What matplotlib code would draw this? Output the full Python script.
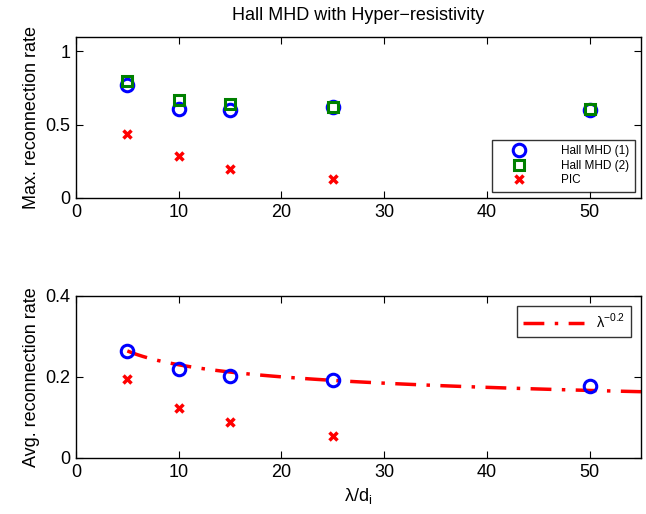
import numpy as np
import matplotlib.pyplot as plt

plt.rcParams['font.family'] = ['Liberation Sans', 'DejaVu Sans']

# wavelength / ion inertial length
lam = [5, 10, 15, 25, 50]
lam_pic = [5, 10, 15, 25]

# max. reconnection rate
max_hall1 = [0.77, 0.61, 0.60, 0.62, 0.60]
max_hall2 = [0.80, 0.67, 0.64, 0.62, 0.61]
max_pic = [0.435, 0.284, 0.196, 0.13]

# avg. reconnection rate
avg_hall1 = [0.264, 0.220, 0.202, 0.193, 0.178]
avg_pic = [0.195, 0.123, 0.089, 0.053]

# power law fit  a * lambda^p
fit_a = 0.364
fit_p = -0.2

blue = (0, 0, 1)
green = (0, 0.5, 0)
red = (1, 0, 0)

fig = plt.figure(figsize=(6.46, 5.14), dpi=100)
ax1 = fig.add_axes([0.1176, 0.6148, 0.8746, 0.3138])
ax2 = fig.add_axes([0.1176, 0.109, 0.8746, 0.3158])

ax1.plot(lam, max_hall1, 'o', mfc='none', mec=blue, mew=2.2, ms=9, label='Hall MHD (1)')
ax1.plot(lam, max_hall2, 's', mfc='none', mec=green, mew=2.2, ms=7.5, label='Hall MHD (2)')
ax1.plot(lam_pic, max_pic, 'x', color=red, mew=2.5, ms=5.5, label='PIC')
ax1.set_xlim(0, 55)
ax1.set_ylim(0, 1.1)
ax1.set_yticks([0, 0.5, 1])
ax1.set_yticklabels(['0', '0.5', '1'])
ax1.set_ylabel('Max. reconnection rate', fontsize=13)
ax1.set_title('Hall MHD with Hyper\u2212resistivity', fontsize=13, pad=12)
leg1 = ax1.legend(loc='lower right', fontsize=8.5, frameon=True, fancybox=False,
                  edgecolor='black', borderpad=0.5, handletextpad=1.8,
                  labelspacing=0.2, borderaxespad=0.5, handlelength=3.5)
leg1.get_frame().set_linewidth(1)

xfit = np.linspace(5, 55, 100)
ax2.plot(xfit, fit_a * xfit ** fit_p, color=red, ls=(0, (6, 3, 1, 3)), lw=2.5,
         label='\u03bb$^{\\mathregular{\u22120.2}}$')
ax2.plot(lam, avg_hall1, 'o', mfc='none', mec=blue, mew=2.2, ms=9)
ax2.plot(lam_pic, avg_pic, 'x', color=red, mew=2.5, ms=5.5)
ax2.set_xlim(0, 55)
ax2.set_ylim(0, 0.4)
ax2.set_yticks([0, 0.2, 0.4])
ax2.set_yticklabels(['0', '0.2', '0.4'])
ax2.set_ylabel('Avg. reconnection rate', fontsize=13)
ax2.set_xlabel('\u03bb/d$_\\mathregular{i}$', fontsize=13, labelpad=4)
leg2 = ax2.legend(loc='upper right', fontsize=10.5, frameon=True, fancybox=False,
                  edgecolor='black', borderpad=0.4, handletextpad=0.8,
                  borderaxespad=0.7, handlelength=4.2)
leg2.get_frame().set_linewidth(1)

for ax in (ax1, ax2):
    ax.set_xticks([0, 10, 20, 30, 40, 50])
    ax.tick_params(direction='in', top=True, right=True, labelsize=13,
                   length=5, width=0.8, pad=4)
    for s in ax.spines.values():
        s.set_linewidth(1)

fig.savefig('out.png', dpi=100)
